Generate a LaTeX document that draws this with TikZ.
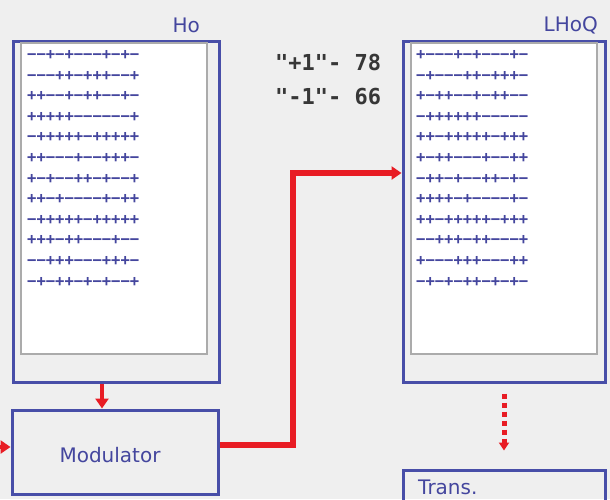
\documentclass[tikz,border=0pt]{standalone}
\usepackage{fontspec}
\setmainfont{DejaVu Sans}
\newfontfamily\pmfont{DejaVu Sans Mono}
\newfontfamily\cntfont{DejaVu Sans Mono}[Ligatures=TeXOff]
\usetikzlibrary{arrows.meta}

\definecolor{boxblue}{RGB}{72,78,168}
\definecolor{txtblue}{RGB}{68,70,158}
\definecolor{sigred}{RGB}{232,28,36}
\definecolor{panel}{RGB}{239,239,239}
\definecolor{cntgray}{RGB}{55,55,55}

\tikzset{
  outerbox/.style={draw=boxblue,line width=3pt,inner sep=0pt},
  innerbox/.style={draw=black!33,fill=white,line width=1.5pt,inner sep=0pt},
  pmrow/.style={anchor=west,inner sep=0pt,text=txtblue,
    font=\pmfont\bfseries\fontsize{15.5}{16}\selectfont},
  cnt/.style={anchor=west,inner sep=0pt,text=cntgray,
    font=\cntfont\bfseries\fontsize{22}{23}\selectfont},
  lbl/.style={inner sep=0pt,text=txtblue,font=\fontsize{20}{21}\selectfont},
  sigline/.style={draw=sigred,-{Triangle[length=10pt,width=13pt]}},
  dotarrow/.style={draw=sigred,line width=5pt,dash pattern=on 5pt off 4pt,
    -{Triangle[length=8pt,width=10pt]}}
}

\begin{document}
\begin{tikzpicture}[x=1pt,y=-1pt]
  \useasboundingbox (0,0) rectangle (610,499);
  \clip (0,0) rectangle (610,499);
  \fill[panel] (0,0) rectangle (610,499);

  % code word tables
  \node[outerbox,minimum width=206pt,minimum height=341pt] (ho) at (116,211.5) {};
  \node[innerbox,minimum width=186pt,minimum height=311pt] (hoin) at (114,198.5) {};
  \node[lbl,anchor=east] (holbl) at (200,25) {Ho};
  \node[outerbox,minimum width=202pt,minimum height=341pt] (lhoq) at (504,211.5) {};
  \node[innerbox,minimum width=186pt,minimum height=311pt] (lhoqin) at (504,198.5) {};
  \node[lbl,anchor=east] (lhoqlbl) at (598,25) {LHoQ};

  \foreach \row [count=\i] in {−−+−+−−−+−+−,−−−++−+++−−+,++−−+−++−−+−,+++++−−−−−−+,
      −+++++−+++++,++−−−+−−+++−,+−+−−++−+−−+,++−+−−−−+−++,
      −+++++−+++++,+++−++−−−+−−,−−+++−−−+++−,−+−++−+−+−−+}
    \node[pmrow] (horow\i) at (27,34.4+20.6*\i) {\row};
  \foreach \row [count=\i] in {+−−−+−+−−−+−,−+−−−++−+++−,+−++−−+−++−−,−++++++−−−−−,
      ++−+++++−+++,+−++−−−+−−++,−++−+−−++−+−,++++−+−−−−+−,
      ++−+++++−+++,−−+++−++−−−+,+−−−+++−−−++,−+−+−++−+−+−}
    \node[pmrow] (lhoqrow\i) at (416,34.4+20.6*\i) {\row};

  % symbol counts
  \node[cnt] (plusone) at (275,62) {\char34+1\char34- 78};
  \node[cnt] (minusone) at (275,97) {\char34-1\char34- 66};

  % blocks
  \node[outerbox,minimum width=206pt,minimum height=84pt] (mod) at (115,452) {};
  \node[lbl] (modlbl) at (110,455) {Modulator};
  \node[outerbox,minimum width=202pt,minimum height=64pt] (trans) at (504,502) {};
  \node[lbl,anchor=north west] (translbl) at (418,480) {Trans.};

  % signal paths
  \coordinate (feed) at (-20,447);
  \coordinate (bend) at (293,173);
  \draw[sigline,line width=4.5pt] (feed) -- ([yshift=5pt]mod.west);
  \draw[sigline,line width=4.5pt] ([xshift=-14pt]ho.south) -- ([xshift=-13pt]mod.north);
  \draw[sigline,line width=6pt] ([yshift=7pt]mod.east) -| (bend) -- (bend -| lhoq.west);
  \draw[dotarrow,shorten <=10pt,shorten >=18pt] (lhoq.south) -- (trans.north);
\end{tikzpicture}
\end{document}
